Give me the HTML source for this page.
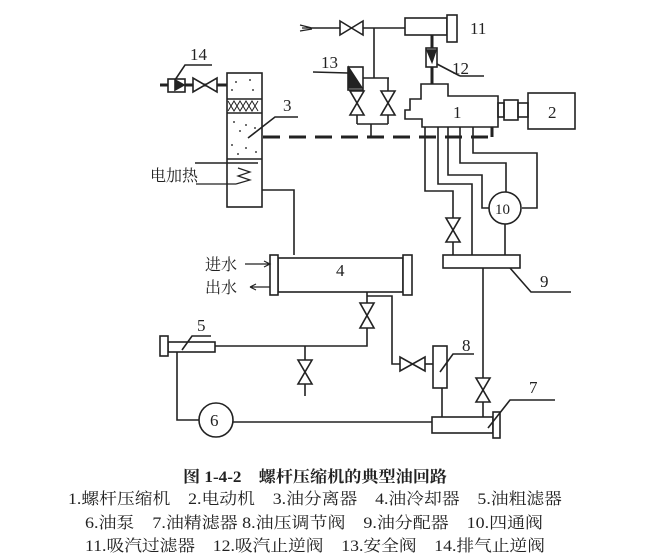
<!DOCTYPE html>
<html><head><meta charset="utf-8"><style>
body{margin:0;background:#fff;}
svg{display:block;}
text{font-family:"Liberation Serif","Noto Serif CJK SC",serif;fill:#222;}
</style></head><body>
<svg width="659" height="560" viewBox="0 0 659 560" xmlns="http://www.w3.org/2000/svg">
<g stroke="#222" stroke-width="1.6" fill="none">
<line x1="312" y1="28" x2="405" y2="28"/>
<path d="M300 25 L312 28 M300 31 L312 29 M302 28 L312 28" stroke-width="1.2"/>
<path d="M340 21 L340 35 L363 21 L363 35 Z" fill="#fff"/>
<rect x="405" y="18" width="42" height="17" fill="#fff"/>
<rect x="447" y="15" width="10" height="27" fill="#fff"/>
<line x1="432" y1="35" x2="432" y2="84" stroke-width="3"/>
<rect x="426" y="48" width="11" height="19" fill="#fff"/>
<path d="M427 50 L436 50 L432 62 Z" fill="#222"/>
<line x1="437" y1="64" x2="460" y2="76"/><line x1="460" y1="76" x2="484" y2="76"/>
<line x1="374" y1="28" x2="374" y2="78"/>
<line x1="363" y1="78" x2="389" y2="78"/>
<rect x="348" y="67" width="15" height="23" fill="#fff"/>
<path d="M349 68 L362 88 L349 88 Z" fill="#222"/>
<line x1="313" y1="72" x2="348" y2="73"/>
<path d="M350 91 L364 91 L350 115 L364 115 Z" fill="#fff"/>
<path d="M381 91 L395 91 L381 115 L395 115 Z" fill="#fff"/>
<line x1="388" y1="78" x2="388" y2="91"/>
<line x1="357" y1="115" x2="357" y2="124"/><line x1="388" y1="115" x2="388" y2="124"/>
<line x1="357" y1="124" x2="388" y2="124"/>
<line x1="371" y1="124" x2="371" y2="137"/>
<path d="M421 84 L448 84 L448 96 L498 96 L498 127 L422 127 L422 119 L405 119 L405 110 L410 110 L410 99 L421 99 Z" fill="#fff"/>
<rect x="498" y="103" width="6" height="14"/>
<rect x="504" y="100" width="14" height="20"/>
<rect x="518" y="103" width="10" height="14"/>
<rect x="528" y="93" width="47" height="36"/>
<line x1="263" y1="137" x2="492" y2="137" stroke-width="3" stroke-dasharray="17,9"/>
<line x1="492" y1="127" x2="492" y2="137" stroke-width="3"/>
<path d="M425 127 L425 191 L453 191 L453 218"/>
<path d="M446 218 L460 218 L446 242 L460 242 Z" fill="#fff"/>
<line x1="453" y1="242" x2="453" y2="255"/>
<path d="M438 127 L438 184 L472 184 L472 255"/>
<path d="M448 127 L448 175 L482 175 L482 208 L489 208"/>
<path d="M460 127 L460 163 L506 163 L506 192"/>
<path d="M473 127 L473 153 L537 153 L537 208 L522 208"/>
<circle cx="505" cy="208" r="16"/>
<line x1="505" y1="224" x2="505" y2="255"/>
<rect x="443" y="255" width="77" height="13"/>
<path d="M510 268 L531 292 L571 292"/>
<line x1="483" y1="268" x2="483" y2="378"/>
<path d="M476 378 L490 378 L476 402 L490 402 Z" fill="#fff"/>
<line x1="483" y1="402" x2="483" y2="417"/>
<rect x="227" y="73" width="35" height="134"/>
<line x1="227" y1="99" x2="262" y2="99"/><line x1="227" y1="113" x2="262" y2="113"/>
<path d="M228 101 L234 111 L240 101 L246 111 L252 101 L258 111 M228 111 L234 101 L240 111 L246 101 L252 111 L258 101" stroke-width="1"/>
<line x1="227" y1="159" x2="262" y2="159"/>
<line x1="195" y1="163" x2="258" y2="163"/>
<path d="M238 168 L250 172 L238 176 L250 180 L236 184 M196 184 L236 184" stroke-width="1.2"/>
<g fill="#444" stroke="none">
<circle cx="236" cy="82" r="1"/><circle cx="250" cy="80" r="1"/><circle cx="232" cy="90" r="1"/><circle cx="253" cy="90" r="1"/>
<circle cx="234" cy="122" r="1"/><circle cx="246" cy="125" r="1"/><circle cx="240" cy="131" r="1"/><circle cx="255" cy="128" r="1"/>
<circle cx="232" cy="145" r="1"/><circle cx="246" cy="148" r="1"/><circle cx="256" cy="152" r="1"/><circle cx="238" cy="154" r="1"/>
</g>
<path d="M248 138 L275 117 L298 117"/>
<line x1="160" y1="85" x2="227" y2="85" stroke-width="3"/>
<rect x="168" y="79" width="17" height="13" fill="#fff"/>
<path d="M175 80 L184 85 L175 90 Z" fill="#222"/>
<path d="M193 78 L193 92 L217 78 L217 92 Z" fill="#fff"/>
<path d="M175 80 L185 65 L212 65"/>
<path d="M262 190 L294 190 L294 255"/>
<rect x="278" y="258" width="125" height="34"/>
<rect x="270" y="255" width="8" height="40" fill="#fff"/>
<rect x="403" y="255" width="9" height="40" fill="#fff"/>
<path d="M245 264 L270 264 M264 261 L270 264 L264 267" stroke-width="1.2"/>
<path d="M250 287 L270 287 M250 287 L256 284 M250 287 L256 290" stroke-width="1.2"/>
<path d="M367 292 L367 303"/>
<path d="M360 303 L374 303 L360 328 L374 328 Z" fill="#fff"/>
<path d="M367 328 L367 346 L215 346"/>
<path d="M367 296 L392 296 L392 364 L400 364"/>
<path d="M400 357 L400 371 L425 357 L425 371 Z" fill="#fff"/>
<line x1="425" y1="364" x2="433" y2="364"/>
<line x1="305" y1="346" x2="305" y2="360"/>
<path d="M298 360 L312 360 L298 384 L312 384 Z" fill="#fff"/>
<line x1="305" y1="384" x2="305" y2="396"/>
<rect x="168" y="342" width="47" height="10"/>
<rect x="160" y="336" width="8" height="20" fill="#fff"/>
<path d="M182 350 L192 336 L211 336"/>
<rect x="433" y="346" width="14" height="42"/>
<path d="M440 372 L453 354 L474 354"/>
<line x1="442" y1="388" x2="442" y2="417"/>
<rect x="432" y="417" width="61" height="16"/>
<rect x="493" y="412" width="7" height="26" fill="#fff"/>
<path d="M488 428 L510 400 L555 400"/>
<path d="M177 352 L177 420 L199 420"/>
<circle cx="216" cy="420" r="17"/>
<line x1="233" y1="422" x2="432" y2="422"/>
</g>
<g font-size="17">
<text x="470" y="34">11</text>
<text x="452" y="74">12</text>
<text x="321" y="68">13</text>
<text x="190" y="60">14</text>
<text x="453" y="118">1</text>
<text x="548" y="118">2</text>
<text x="283" y="111">3</text>
<text x="336" y="276" fill="#bbb">4</text>
<text x="197" y="331">5</text>
<text x="210" y="426">6</text>
<text x="529" y="393">7</text>
<text x="462" y="351">8</text>
<text x="540" y="287">9</text>
<text x="495" y="214" font-size="15">10</text>
<text x="150" y="181" font-size="16">电加热</text>
<text x="205" y="270" font-size="16">进水</text>
<text x="205" y="293" font-size="16">出水</text>
</g>
<text x="315" y="482" font-size="16" font-weight="bold" text-anchor="middle" textLength="264" lengthAdjust="spacingAndGlyphs">图 1-4-2　螺杆压缩机的典型油回路</text>
<g font-size="16">
<text x="68" y="504" textLength="494" lengthAdjust="spacingAndGlyphs">1.螺杆压缩机　2.电动机　3.油分离器　4.油冷却器　5.油粗滤器</text>
<text x="85" y="528" textLength="458" lengthAdjust="spacingAndGlyphs">6.油泵　7.油精滤器 8.油压调节阀　9.油分配器　10.四通阀</text>
<text x="85" y="551" textLength="460" lengthAdjust="spacingAndGlyphs">11.吸汽过滤器　12.吸汽止逆阀　13.安全阀　14.排气止逆阀</text>
</g>
</svg>
</body></html>
